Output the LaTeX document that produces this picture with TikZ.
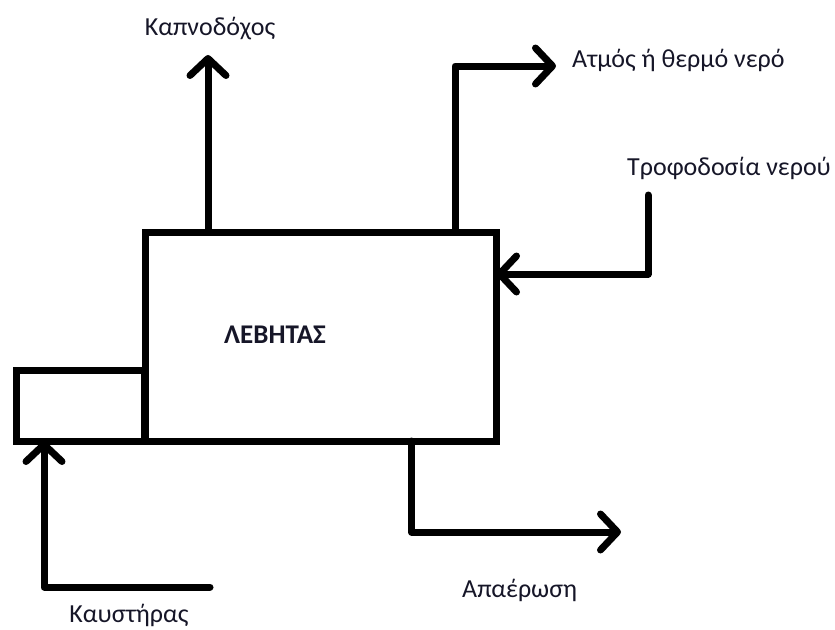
\documentclass[tikz,border=0pt]{standalone}
\usepackage{fontspec}
\setmainfont{Carlito}
\usetikzlibrary{arrows.meta}
\definecolor{labelink}{RGB}{22,22,40}
\begin{document}
\begin{tikzpicture}[x=1pt,y=-1pt,
  pipe/.style={line width=7pt, line cap=round, line join=round,
    -{Straight Barb[length=17pt,width=36pt,line cap=round,line join=round]}},
  vessel/.style={draw, line width=7pt, line join=miter, rectangle,
    inner sep=0pt, outer sep=0pt},
  lbl/.style={text=labelink, font=\fontsize{26}{30}\selectfont, inner sep=0pt}]
  \useasboundingbox (0,0) rectangle (835,629);
  \fill[white] (0,0) rectangle (835,629);

  % boiler shell and burner box
  \node[vessel, minimum width=351pt, minimum height=209pt] (boiler) at (320.5,336.5) {};
  \node[vessel, minimum width=128pt, minimum height=71pt] (burner) at (80,405.5) {};
  \node[font=\bfseries\fontsize{27}{32}\selectfont, text=labelink, anchor=base west, inner sep=0pt]
    (title) at (224,343) {ΛΕΒΗΤΑΣ};

  % free ends of the lines
  \coordinate (fluetip) at (208,55);
  \coordinate (steamtip) at (556,66);
  \coordinate (feedstart) at (648,195);
  \coordinate (burnstart) at (210,587);
  \coordinate (blowtip) at (621,532);

  % flue gas, steam, feed water, burner, blowdown
  \draw[pipe] (boiler.north -| fluetip) -- (fluetip);
  \draw[pipe] ([xshift=-41pt]boiler.north east) |- (steamtip);
  \draw[pipe] (feedstart) |- ([yshift=-42pt]boiler.north east);
  \draw[pipe] (burnstart) -| ([xshift=28pt]burner.south west);
  \draw[pipe] ([xshift=91pt]boiler.south) |- (blowtip);

  % labels
  \node[lbl, anchor=base] (fluelbl) at (210,35) {Καπνοδόχος};
  \node[lbl, anchor=base west] (steamlbl) at (572,67) {Ατμός ή θερμό νερό};
  \node[lbl, anchor=base west] (feedlbl) at (627,175) {Τροφοδοσία νερού};
  \node[lbl, anchor=base] (burnlbl) at (129,622) {Καυστήρας};
  \node[lbl, anchor=base west] (blowlbl) at (462,597) {Απαέρωση};
\end{tikzpicture}
\end{document}
